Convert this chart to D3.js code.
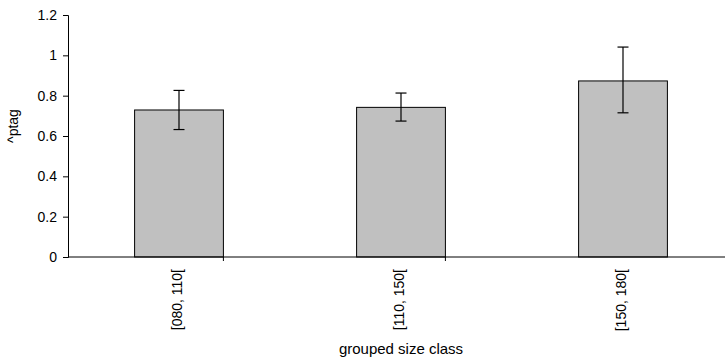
<!DOCTYPE html>
<html>
<head>
<meta charset="utf-8">
<script src="https://cdn.jsdelivr.net/npm/d3@7"></script>
<style>
  body { margin: 0; background: #fff; }
  svg { display: block; font-family: "Liberation Sans", Arial, sans-serif; }
</style>
</head>
<body>
<svg id="chart"></svg>
<script>
const categories = ["[080, 110[", "[110, 150[", "[150, 180["];
const means      = [0.729, 0.742, 0.873];
const errUpper   = [0.826, 0.813, 1.041];
const errLower   = [0.632, 0.674, 0.715];
const yTicks     = [0, 0.2, 0.4, 0.6, 0.8, 1, 1.2];

const width  = 725;
const height = 363;
const margin = { top: 15, left: 68, bottom: 106 };
const plotRight = 734;   // the band of the last class runs past the window edge

const svg = d3.select("#chart")
  .attr("width", width)
  .attr("height", height);

const x = d3.scaleBand()
  .domain(categories)
  .range([margin.left, plotRight])
  .paddingInner(0.6)
  .paddingOuter(0.3);

const y = d3.scaleLinear()
  .domain([0, 1.2])
  .range([height - margin.bottom, margin.top]);

const baseY = y(0);

// bars
svg.selectAll(".bar")
  .data(means)
  .join("rect")
  .attr("class", "bar")
  .attr("x", (d, i) => x(categories[i]))
  .attr("y", d => y(d))
  .attr("width", x.bandwidth())
  .attr("height", d => baseY - y(d))
  .attr("fill", "#c0c0c0")
  .attr("stroke", "#000")
  .attr("stroke-width", 1);

// error bars
const cx = i => x(categories[i]) + x.bandwidth() / 2;
const err = svg.append("g").attr("stroke", "#000").attr("stroke-width", 1.2);
categories.forEach((c, i) => {
  err.append("line")
    .attr("x1", cx(i)).attr("x2", cx(i))
    .attr("y1", y(errUpper[i])).attr("y2", y(errLower[i]));
  [errUpper[i], errLower[i]].forEach(v => {
    err.append("line")
      .attr("x1", cx(i) - 5.5).attr("x2", cx(i) + 5.5)
      .attr("y1", y(v)).attr("y2", y(v));
  });
});

// y axis
const yAxis = d3.axisLeft(y)
  .tickValues(yTicks)
  .tickFormat(d3.format("~g"))
  .tickSize(5)
  .tickPadding(6);

svg.append("g")
  .attr("transform", `translate(${margin.left},0)`)
  .call(yAxis)
  .call(g => g.select(".domain").attr("stroke", "#000"))
  .call(g => g.selectAll(".tick line").attr("stroke", "#000"))
  .call(g => g.selectAll(".tick text")
    .attr("fill", "#000")
    .attr("font-size", 14)
    .attr("font-family", "'Liberation Sans', Arial, sans-serif"));

// x axis: line, separator ticks between classes
const xg = svg.append("g");
xg.append("line")
  .attr("x1", margin.left).attr("x2", plotRight)
  .attr("y1", baseY).attr("y2", baseY)
  .attr("stroke", "#000");

const step = x.step();
const bandStart = x(categories[0]) - x.paddingOuter() * step;
xg.selectAll(".sep")
  .data(d3.range(1, categories.length))
  .join("line")
  .attr("class", "sep")
  .attr("x1", i => bandStart + i * step - x.paddingInner() * step / 2)
  .attr("x2", i => bandStart + i * step - x.paddingInner() * step / 2)
  .attr("y1", baseY).attr("y2", baseY + 4)
  .attr("stroke", "#000");

xg.selectAll(".cat")
  .data(categories)
  .join("text")
  .attr("class", "cat")
  .attr("transform", d => `translate(${x(d) + x.bandwidth() / 2 + 3},${baseY + 12}) rotate(-90)`)
  .attr("text-anchor", "end")
  .attr("font-size", 14)
  .attr("fill", "#000")
  .text(d => d);

// axis titles
svg.append("text")
  .attr("x", (margin.left + plotRight) / 2)
  .attr("y", 354)
  .attr("text-anchor", "middle")
  .attr("font-size", 15)
  .attr("fill", "#000")
  .text("grouped size class");

svg.append("text")
  .attr("transform", "translate(18,126) rotate(-90)")
  .attr("text-anchor", "middle")
  .attr("font-size", 14)
  .attr("fill", "#000")
  .text("^ptag");
</script>
</body>
</html>
